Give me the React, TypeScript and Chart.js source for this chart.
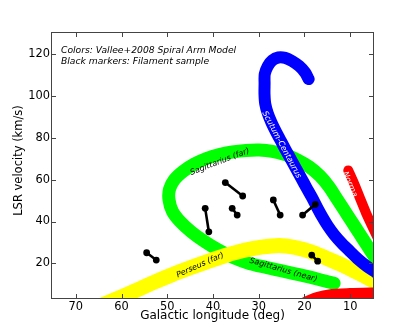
import React, { useEffect, useRef } from "react";
import { Chart, registerables } from "chart.js";

Chart.register(...registerables);

// ---- axes ----
const X_TICKS = [70, 60, 50, 40, 30, 20, 10];
const Y_TICKS = [20, 40, 60, 80, 100, 120];
const X_TITLE = "Galactic longitude (deg)";
const Y_TITLE = "LSR velocity (km/s)";
const NOTE_LINES = ["Colors: Vallee+2008 Spiral Arm Model", "Black markers: Filament sample"];

// ---- spiral arm model tracks: [longitude (deg), LSR velocity (km/s)] ----
const SCUTUM_CENTAURUS: [number, number][] = [
  [19.07, 108.0], [19.83, 111.1], [21.14, 114.2], [22.67, 116.6], [24.2, 118.1],
  [25.72, 118.3], [27.03, 116.9], [28.01, 114.2], [28.67, 110.4], [28.71, 105.6],
  [28.73, 100.9], [28.56, 96.1], [28.01, 91.6], [27.21, 87.3], [26.25, 83.0],
  [25.2, 78.7], [24.11, 74.2], [22.98, 69.8], [21.84, 65.3], [20.69, 60.7],
  [19.53, 56.1], [18.35, 51.5], [17.26, 46.9], [16.13, 42.4], [14.9, 38.0],
  [13.44, 33.6], [11.76, 29.5], [9.95, 25.6], [8.18, 21.9], [6.31, 18.6],
  [4.35, 15.7],
];
const SAGITTARIUS: [number, number][] = [
  [13.51, 10.5], [17.22, 12.6], [20.93, 14.5], [24.63, 16.3], [28.34, 18.1],
  [32.05, 20.0], [35.54, 22.8], [38.81, 26.4], [41.87, 30.5], [44.7, 35.0],
  [47.1, 39.8], [48.85, 44.8], [49.61, 50.3], [49.5, 55.5], [48.41, 60.1],
  [46.45, 64.1], [44.05, 67.5], [41.43, 70.1], [38.6, 72.0], [35.76, 73.2],
  [32.81, 73.9], [29.87, 74.1], [27.03, 73.5], [24.2, 71.9], [21.58, 69.5],
  [18.94, 66.1], [16.61, 61.8], [14.64, 56.7], [12.98, 51.1], [11.33, 45.6],
  [9.67, 40.0], [8.01, 34.4], [6.35, 28.8], [4.69, 23.2], [3.04, 17.6],
];
const PERSEUS: [number, number][] = [
  [66.0, -1.5], [60.8, 3.3], [56.92, 7.0], [52.99, 10.9], [49.07, 14.5],
  [45.14, 17.8], [41.21, 20.9], [37.29, 23.8], [33.36, 26.2], [29.43, 27.8],
  [25.51, 28.6], [22.02, 27.6], [18.74, 25.7], [15.47, 22.8], [12.2, 19.7],
  [8.93, 16.2], [5.65, 12.6], [2.38, 9.0],
];
const NORMA: [number, number][] = [
  [10.4, 64.4], [9.3, 59], [8, 52], [6.5, 44], [5, 37], [3.5, 30],
];
const NORMA_LOW: [number, number][] = [
  [22, -2], [19.7, 1.5], [17, 3.8], [14.6, 5], [10, 5.6], [5, 5.9], [2, 6],
];

// ---- filament sample: [lon1, vel1, lon2, vel2] ----
const FILAMENTS: [number, number, number, number][] = [
  [54.5, 25.1, 52.4, 21.6],
  [41.7, 46.3, 40.9, 35.1],
  [37.3, 58.6, 33.5, 52.2],
  [35.8, 46.3, 34.7, 43.1],
  [26.8, 50.3, 25.3, 43.1],
  [20.4, 43.1, 17.6, 48.2],
  [18.4, 24.0, 17.1, 21.1],
];

// ---- arm labels (anchor in data coords) ----
const ARM_LABELS = [
  { text: "Sagittarius (far)", lon: 38.5, vel: 68.5, angle: -21, color: "#000" },
  { text: "Scutum-Centaurus", lon: 25, vel: 76.7, angle: 62, color: "#fff" },
  { text: "Norma", lon: 10.05, vel: 57.8, angle: 67, color: "#fff" },
  { text: "Perseus (far)", lon: 42.8, vel: 19.2, angle: -24, color: "#000" },
  { text: "Sagittarius (near)", lon: 24.6, vel: 16.8, angle: 16, color: "#000" },
];

const FONT = "'DejaVu Sans', 'Liberation Sans', sans-serif";

const toXY = (arr: [number, number][]) => arr.map(([x, y]) => ({ x, y }));

const arm = (label: string, arr: [number, number][], color: string, width: number, order: number) => ({
  label,
  data: toXY(arr),
  showLine: true,
  borderColor: color,
  backgroundColor: color,
  borderWidth: width,
  borderCapStyle: "round" as const,
  borderJoinStyle: "round" as const,
  tension: 0.3,
  pointRadius: 0,
  pointHoverRadius: 0,
  clip: 0,
  order,
});

const overlay = {
  id: "overlay",
  afterDatasetsDraw(chart: any) {
    const { ctx, scales } = chart;
    const x = scales.x, y = scales.y;
    ctx.save();
    ctx.font = `italic 8px ${FONT}`;
    ctx.textAlign = "center";
    ctx.textBaseline = "middle";
    for (const lb of ARM_LABELS) {
      ctx.save();
      ctx.translate(x.getPixelForValue(lb.lon), y.getPixelForValue(lb.vel));
      ctx.rotate((lb.angle * Math.PI) / 180);
      ctx.fillStyle = lb.color;
      ctx.fillText(lb.text, 0, 0);
      ctx.restore();
    }
    ctx.restore();
  },
  afterDraw(chart: any) {
    const { ctx, chartArea: a, scales } = chart;
    const x = scales.x, y = scales.y;
    ctx.save();
    ctx.strokeStyle = "#444";
    ctx.lineWidth = 1;
    ctx.strokeRect(a.left - 0.5, a.top - 0.5, a.right - a.left + 1, a.bottom - a.top + 1);
    ctx.beginPath();
    const tl = 4;
    for (const v of X_TICKS) {
      const px = Math.round(x.getPixelForValue(v)) + 0.5;
      ctx.moveTo(px, a.bottom);
      ctx.lineTo(px, a.bottom - tl);
      ctx.moveTo(px, a.top);
      ctx.lineTo(px, a.top + tl);
    }
    for (const v of Y_TICKS) {
      const py = Math.round(y.getPixelForValue(v)) + 0.5;
      ctx.moveTo(a.left, py);
      ctx.lineTo(a.left + tl, py);
      ctx.moveTo(a.right, py);
      ctx.lineTo(a.right - tl, py);
    }
    ctx.stroke();
    ctx.fillStyle = "#000";
    ctx.font = `italic 9.2px ${FONT}`;
    ctx.textAlign = "left";
    ctx.textBaseline = "middle";
    NOTE_LINES.forEach((t, i) => ctx.fillText(t, a.left + 9, a.top + 17.7 + i * 10.6));
    // y-axis title (sits slightly above the axis centre in the reference)
    ctx.font = `11.5px ${FONT}`;
    ctx.textAlign = "center";
    ctx.translate(19.5, (a.top + a.bottom) / 2 - 5);
    ctx.rotate(-Math.PI / 2);
    ctx.fillText(Y_TITLE, 0, 0);
    ctx.restore();
  },
};

export default function App() {
  const ref = useRef<HTMLCanvasElement | null>(null);
  useEffect(() => {
    if (!ref.current) return;
    const datasets: any[] = [
      arm("Sagittarius", SAGITTARIUS, "#00ff00", 13, 5),
      arm("Perseus", PERSEUS, "#ffff00", 15, 4),
      arm("Norma", NORMA, "#ff0000", 10, 3),
      arm("Norma low", NORMA_LOW, "#ff0000", 11, 3),
      arm("Scutum-Centaurus", SCUTUM_CENTAURUS, "#0000ff", 12, 2),
      ...FILAMENTS.map(([l1, v1, l2, v2], i) => ({
        label: `Filament ${i + 1}`,
        data: [{ x: l1, y: v1 }, { x: l2, y: v2 }],
        showLine: true,
        borderColor: "#000",
        backgroundColor: "#000",
        borderWidth: 2.6,
        pointRadius: 3.4,
        pointBorderWidth: 0,
        pointBackgroundColor: "#000",
        tension: 0,
        order: 0,
      })),
    ];
    const chart = new Chart(ref.current, {
      type: "scatter",
      data: { datasets },
      plugins: [overlay],
      options: {
        animation: false,
        responsive: false,
        devicePixelRatio: 1,
        events: [],
        layout: { padding: { top: 33, right: 42, left: 0, bottom: 0 } },
        plugins: { legend: { display: false }, tooltip: { enabled: false } },
        scales: {
          x: {
            type: "linear",
            reverse: true,
            min: 5,
            max: 75.2,
            afterFit: (s: any) => { s.height = 34; },
            afterBuildTicks: (s: any) => { s.ticks = X_TICKS.map((v) => ({ value: v })); },
            grid: { display: false, drawTicks: false },
            border: { display: false },
            ticks: { padding: 2, color: "#000", font: { family: FONT, size: 11.4 } },
            title: { display: true, text: X_TITLE, color: "#000", font: { family: FONT, size: 12 }, padding: { top: 0, bottom: 8.5 } },
          },
          y: {
            type: "linear",
            min: 3.5,
            max: 130,
            afterFit: (s: any) => { s.width = 52; },
            afterBuildTicks: (s: any) => { s.ticks = Y_TICKS.map((v) => ({ value: v })); },
            grid: { display: false, drawTicks: false },
            border: { display: false },
            ticks: { padding: 2, color: "#000", font: { family: FONT, size: 11.4 } },
            title: { display: false, text: Y_TITLE },
          },
        },
      },
    });
    return () => chart.destroy();
  }, []);
  return (
    <div style={{ position: "absolute", left: 0, top: 0, width: 415, height: 332, background: "#fff" }}>
      <canvas ref={ref} width={415} height={332} style={{ width: 415, height: 332, display: "block" }} />
    </div>
  );
}
